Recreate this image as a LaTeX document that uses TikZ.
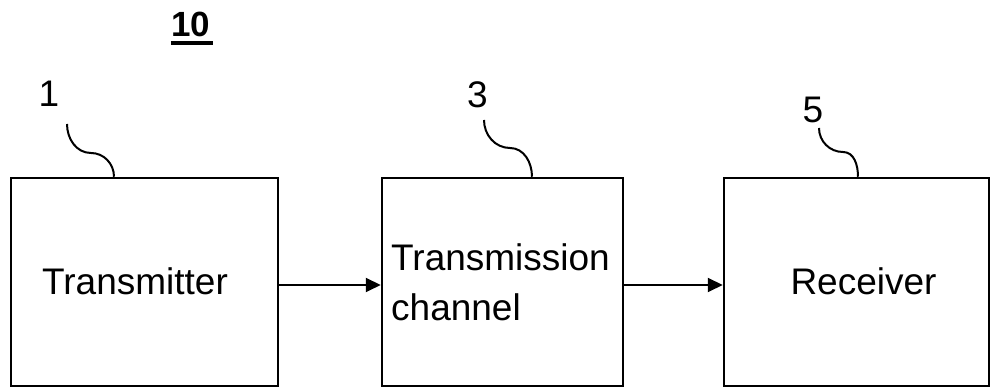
\documentclass[tikz,border=0pt]{standalone}
\usepackage{fontspec}
\setmainfont{Liberation Sans}
\usetikzlibrary{arrows.meta}
\begin{document}
\begin{tikzpicture}[x=1pt,y=1pt,
  block/.style={draw,line width=2.5pt,minimum height=208pt,inner sep=0pt},
  txt/.style={font=\fontsize{37}{50}\selectfont,inner sep=0pt},
  refnum/.style={font=\fontsize{37}{44}\selectfont,inner sep=0pt,anchor=base},
  leader/.style={line width=2pt},
  flow/.style={line width=2pt,-{Triangle[length=15pt,width=14pt]}}]
\useasboundingbox (0,0) rectangle (991,390);
% blocks
\node[block,minimum width=267pt] (tx) at (144.5,108) {};
\node[block,minimum width=241pt] (ch) at (502.5,108) {};
\node[block,minimum width=265pt] (rx) at (856.5,108) {};
% texts
\node[txt,anchor=base] (txt1) at (135,95) {Transmitter};
\node[txt,anchor=north west,align=left] (txt2) at (391,146.5) {Transmission\\channel};
\node[txt,anchor=base] (txt3) at (863.5,95) {Receiver};
% figure number
\node[inner sep=0pt,anchor=base,font=\fontsize{35}{40}\selectfont\bfseries] (fig) at (190.5,353) {10};
\draw[line width=4pt] (fig.base west) ++(0,-6) -- ++(42,0);
% reference numerals
\node[refnum] (n1) at (49,283) {1};
\node[refnum] (n3) at (477.5,282) {3};
\node[refnum] (n5) at (813,267) {5};
% leaders
\coordinate (l1) at (67,266);
\coordinate (l3) at (484,270);
\coordinate (l5) at (819,262);
\draw[leader] (l1) to[out=-90,in=180] (91,237) to[out=0,in=90] (tx.north -| 114,0);
\draw[leader] (l3) to[out=-90,in=180] (510,242) to[out=0,in=90] (ch.north -| 532,0);
\draw[leader] (l5) to[out=-90,in=180] (843,238) to[out=0,in=90] (rx.north -| 858,0);
% arrows
\draw[flow] ([yshift=-3pt]tx.east) -- ([yshift=-3pt]ch.west);
\draw[flow] ([yshift=-3pt]ch.east) -- ([yshift=-3pt]rx.west);
\end{tikzpicture}
\end{document}
